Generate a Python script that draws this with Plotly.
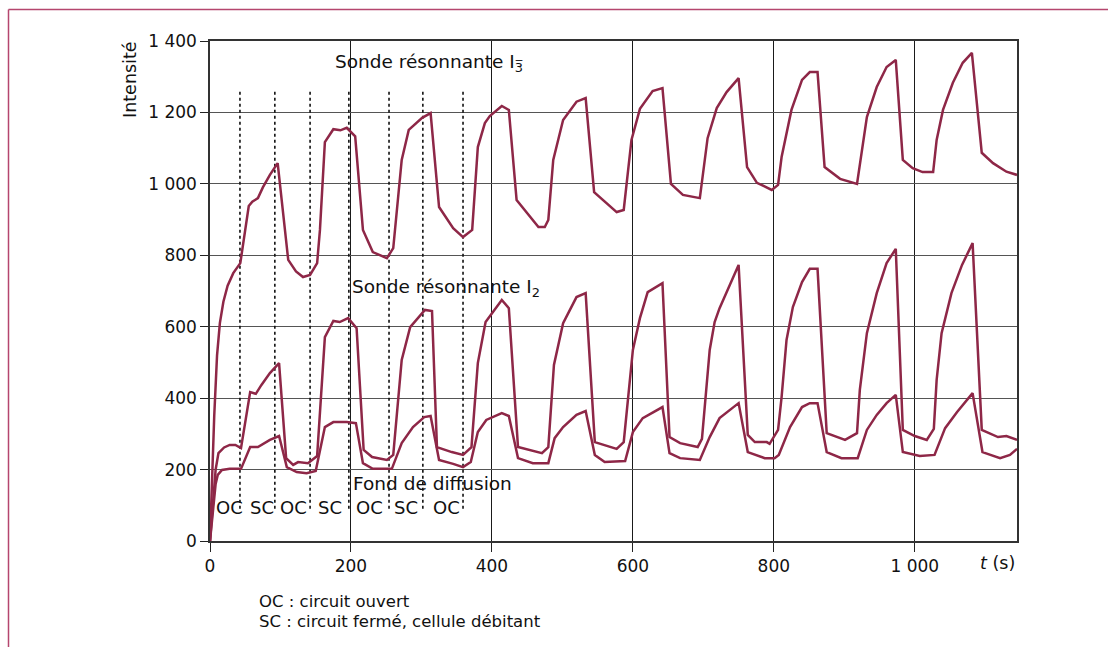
import plotly.graph_objects as go

# ---- data ----
t_top = [0,6,10,14,19,25,33,43,55,60,68,75,85,96,111,122,132,142,152,156,163,175,185,194,206,217,231,251,260,272,282,301,313,325,345,359,372,380,390,397,414,424,435,466,475,480,487,501,520,533,545,577,587,598,610,628,642,654,671,695,706,719,733,750,762,776,797,806,811,825,840,851,862,872,894,918,932,946,960,973,983,997,1011,1026,1031,1040,1054,1068,1081,1095,1111,1130,1145]
v_top = [0,350,520,610,670,715,750,778,938,950,960,990,1025,1058,787,755,739,745,778,871,1117,1153,1150,1157,1133,871,809,792,820,1067,1151,1185,1198,935,876,851,871,1103,1170,1190,1218,1207,955,879,879,899,1067,1179,1230,1240,977,921,927,1123,1210,1260,1268,1000,969,960,1128,1212,1257,1296,1047,1003,983,997,1075,1207,1291,1313,1313,1047,1014,1000,1187,1271,1327,1347,1067,1044,1033,1033,1123,1207,1283,1339,1367,1087,1058,1034,1025]

t_mid = [0,8,12,20,28,36,44,57,65,73,85,98,108,118,125,139,152,163,175,184,196,208,218,230,251,260,272,284,305,315,322,343,359,371,380,391,414,424,437,471,480,488,501,520,533,546,577,587,600,610,621,642,652,667,692,698,709,716,723,738,750,763,773,790,794,806,811,818,827,840,851,862,875,901,918,922,932,946,960,973,983,1000,1017,1027,1031,1038,1052,1067,1082,1095,1118,1130,1145]
v_mid = [0,200,246,262,269,269,260,417,412,437,470,498,232,213,221,218,238,571,616,613,624,596,255,235,227,241,507,599,647,644,263,249,241,263,498,613,675,652,263,246,263,493,610,683,694,277,258,277,535,624,697,722,291,274,263,286,535,613,652,722,773,297,277,277,272,311,403,563,655,725,762,762,302,283,302,423,582,694,778,818,311,294,283,314,451,582,694,773,834,311,291,294,283]

t_bot = [0,8,11,17,28,44,57,68,85,98,109,123,137,150,163,175,194,207,217,231,258,272,288,304,313,325,345,359,370,380,392,414,424,437,458,480,489,501,520,533,546,560,589,600,614,642,652,667,695,709,723,750,763,787,801,807,823,840,851,862,875,896,919,932,946,960,973,983,1007,1028,1043,1060,1082,1096,1121,1135,1145]
v_bot = [0,160,185,199,202,202,263,263,283,294,207,193,190,196,319,333,333,330,218,202,202,274,319,347,350,227,216,207,221,305,339,358,350,232,218,218,288,319,353,364,241,221,224,305,344,375,246,232,227,291,344,386,249,232,232,241,319,375,386,386,249,232,232,311,353,386,409,249,238,241,316,361,414,249,232,241,258]

switch_t = [42.5, 92, 142, 197, 254, 302, 359]
switch_range = [90, 1265]
phase_labels = ["OC", "SC", "OC", "SC", "OC", "SC", "OC"]
phase_t = [28, 74, 119, 170, 227, 278, 335]

x_ticks = [0, 200, 400, 600, 800, 1000]
x_ticktext = ["0", "200", "400", "600", "800", "1 000"]
y_ticks = [0, 200, 400, 600, 800, 1000, 1200, 1400]
y_ticktext = ["0", "200", "400", "600", "800", "1 000", "1 200", "1 400"]

LINE = "#8e2747"
FRAME = "#b5466e"
FONT = "DejaVu Sans"
TXT = "#111111"

fig = go.Figure()

# dotted switching lines
dx, dy = [], []
for t in switch_t:
    dx += [t, t, None]
    dy += [switch_range[0], switch_range[1], None]
fig.add_trace(go.Scatter(x=dx, y=dy, mode="lines",
                         line=dict(color="#111111", width=1.6, dash="dot"),
                         hoverinfo="skip", showlegend=False))

for tx, vy in [(t_top, v_top), (t_mid, v_mid), (t_bot, v_bot)]:
    fig.add_trace(go.Scatter(x=tx, y=vy, mode="lines",
                             line=dict(color=LINE, width=2.5),
                             showlegend=False))

ann = []
for lab, t in zip(phase_labels, phase_t):
    ann.append(dict(x=t, y=95, xref="x", yref="y", text=lab, showarrow=False,
                    font=dict(size=18, color=TXT, family=FONT),
                    xanchor="center", yanchor="middle"))
ann.append(dict(x=174.5, y=1339, xref="x", yref="y",
                text="Sonde résonnante I<sub>3\u0305</sub>", showarrow=False,
                font=dict(size=18.5, color=TXT, family=FONT),
                xanchor="left", yanchor="middle"))
ann.append(dict(x=198.5, y=708, xref="x", yref="y",
                text="Sonde résonnante I<sub>2</sub>", showarrow=False,
                font=dict(size=18.5, color=TXT, family=FONT),
                xanchor="left", yanchor="middle"))
ann.append(dict(x=200, y=160, xref="x", yref="y",
                text="Fond de diffusion", showarrow=False,
                font=dict(size=18.5, color=TXT, family=FONT),
                xanchor="left", yanchor="middle"))
ann.append(dict(x=130, y=80, xref="paper", yref="paper",
                text="Intensité", textangle=-90, showarrow=False,
                font=dict(size=17.5, color=TXT, family=FONT),
                xanchor="center", yanchor="middle"))
ann.append(dict(x=1017, y=563, xref="paper", yref="paper",
                text="<i>t</i> (s)", showarrow=False,
                font=dict(size=17.5, color=TXT, family=FONT),
                xanchor="right", yanchor="middle"))
ann.append(dict(x=257, y=601, xref="paper", yref="paper",
                text="OC : circuit ouvert", showarrow=False,
                font=dict(size=16.5, color=TXT, family=FONT),
                xanchor="left", yanchor="middle"))
ann.append(dict(x=257, y=621, xref="paper", yref="paper",
                text="SC : circuit fermé, cellule débitant", showarrow=False,
                font=dict(size=16.5, color=TXT, family=FONT),
                xanchor="left", yanchor="middle"))

# convert pixel-based paper annotations
W, H = 1108, 647
ml, mr, mt, mb = 210, 1108 - 1017, 41, 647 - 541
pw, ph = W - ml - mr, H - mt - mb
for a in ann:
    if a["xref"] == "paper":
        a["x"] = (a["x"] - ml) / pw
        a["y"] = (H - mb - a["y"]) / ph

def px_to_paper(x, y):
    return (x - ml) / pw, (H - mb - y) / ph

fx0, fy0 = px_to_paper(8.5, 9.5)
fx1, fy1 = px_to_paper(1108, 647)
shapes = [
    dict(type="line", xref="paper", yref="paper", x0=fx0, y0=fy0, x1=fx1, y1=fy0,
         line=dict(color=FRAME, width=1.5)),
    dict(type="line", xref="paper", yref="paper", x0=fx0, y0=fy0, x1=fx0, y1=fy1,
         line=dict(color=FRAME, width=1.5)),
]

fig.update_layout(
    width=W, height=H,
    margin=dict(l=ml, r=mr, t=mt, b=mb, pad=0),
    paper_bgcolor="white", plot_bgcolor="white",
    font=dict(family=FONT, size=17, color=TXT),
    annotations=ann, shapes=shapes,
    xaxis=dict(range=[0, 1145], tickvals=x_ticks, ticktext=x_ticktext,
               showgrid=True, gridcolor="#1a1a1a", gridwidth=1,
               showline=True, linecolor="#333333", linewidth=1.5, mirror=True,
               ticks="outside", ticklen=9, tickcolor="#222222", tickwidth=1.2,
               zeroline=False, tickfont=dict(size=17, family=FONT, color=TXT)),
    yaxis=dict(range=[0, 1400], tickvals=y_ticks, ticktext=y_ticktext,
               showgrid=True, gridcolor="#555555", gridwidth=1,
               showline=True, linecolor="#333333", linewidth=1.5, mirror=True,
               ticks="outside", ticklen=8, tickcolor="#222222", tickwidth=1.2,
               zeroline=False, tickfont=dict(size=17, family=FONT, color=TXT)),
)

fig.write_html("out.html")
